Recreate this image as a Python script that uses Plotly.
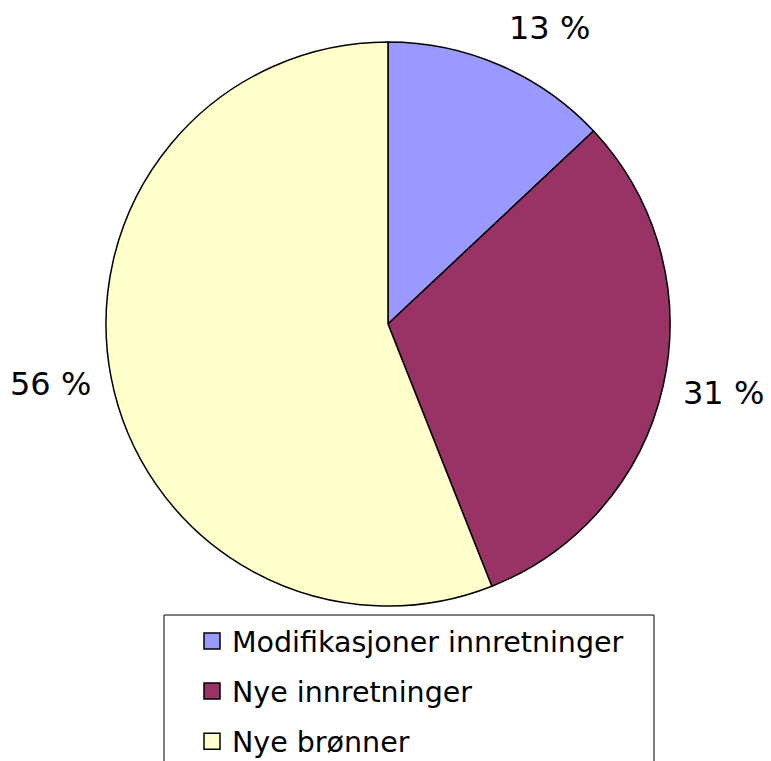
import math
import plotly.graph_objects as go

# ---- data ----
categories = ["Modifikasjoner innretninger", "Nye innretninger", "Nye brønner"]
shares = [13, 31, 56]
colors = ["#9999FF", "#993366", "#FFFFCC"]

# ---- layout constants (pixels, page coordinates) ----
W, H = 771, 761
OFF = 8  # page body margin in front of the plot div
CX, CY, R = 388 - OFF, 324 - OFF, 282
FONT = "DejaVu Sans"


def px_x(x):
    return (x - OFF) / W


def px_y(y):
    return 1 - (y - OFF) / H


fig = go.Figure()

fig.add_trace(go.Pie(
    labels=categories,
    values=shares,
    sort=False,
    direction="clockwise",
    rotation=0,
    marker=dict(colors=colors, line=dict(color="black", width=1.5)),
    textinfo="none",
    hoverinfo="skip",
    showlegend=False,
    domain=dict(x=[(CX - R) / W, (CX + R) / W], y=[1 - (CY + R) / H, 1 - (CY - R) / H]),
))

# legend entries (dummy traces so the spacing can be controlled)
for name, col in zip(categories, colors):
    fig.add_trace(go.Scatter(
        x=[None], y=[None], mode="markers", name=name, legendgroup=name,
        marker=dict(symbol="square", size=16, color=col, line=dict(color="black", width=1.5)),
        hoverinfo="skip",
    ))

# percentage labels, placed along each slice's mid-angle
total = sum(shares)
cum = 0
annotations = []
gap = 18
for v in shares:
    mid = (cum + v / 2) / total * 2 * math.pi
    cum += v
    s, c = math.sin(mid), math.cos(mid)
    px = CX + (R + gap) * s
    py = CY - (R + gap) * c
    xa = "left" if s > 0.1 else ("right" if s < -0.1 else "center")
    ya = "bottom" if c > 0.707 else ("top" if c < -0.707 else "middle")
    annotations.append(dict(
        x=px / W, y=1 - py / H, xref="paper", yref="paper",
        xanchor=xa, yanchor=ya, showarrow=False,
        yshift=-4 if ya == "middle" else 0,
        text=f"{v} %", font=dict(family=FONT, size=32, color="black"),
    ))

fig.update_layout(
    width=W, height=H,
    margin=dict(l=0, r=0, t=0, b=0),
    paper_bgcolor="white", plot_bgcolor="white",
    xaxis=dict(visible=False), yaxis=dict(visible=False),
    showlegend=True,
    legend=dict(
        x=px_x(192), y=px_y(616), xanchor="left", yanchor="top",
        font=dict(family=FONT, size=28.5, color="black"),
        bgcolor="rgba(0,0,0,0)", borderwidth=0,
        tracegroupgap=10, itemclick=False, itemdoubleclick=False,
    ),
    annotations=annotations,
    shapes=[dict(
        type="rect", xref="paper", yref="paper",
        x0=px_x(164), x1=px_x(654), y0=px_y(800), y1=px_y(615),
        line=dict(color="black", width=1), fillcolor="rgba(0,0,0,0)", layer="below",
    )],
)

fig.write_html("out.html")
